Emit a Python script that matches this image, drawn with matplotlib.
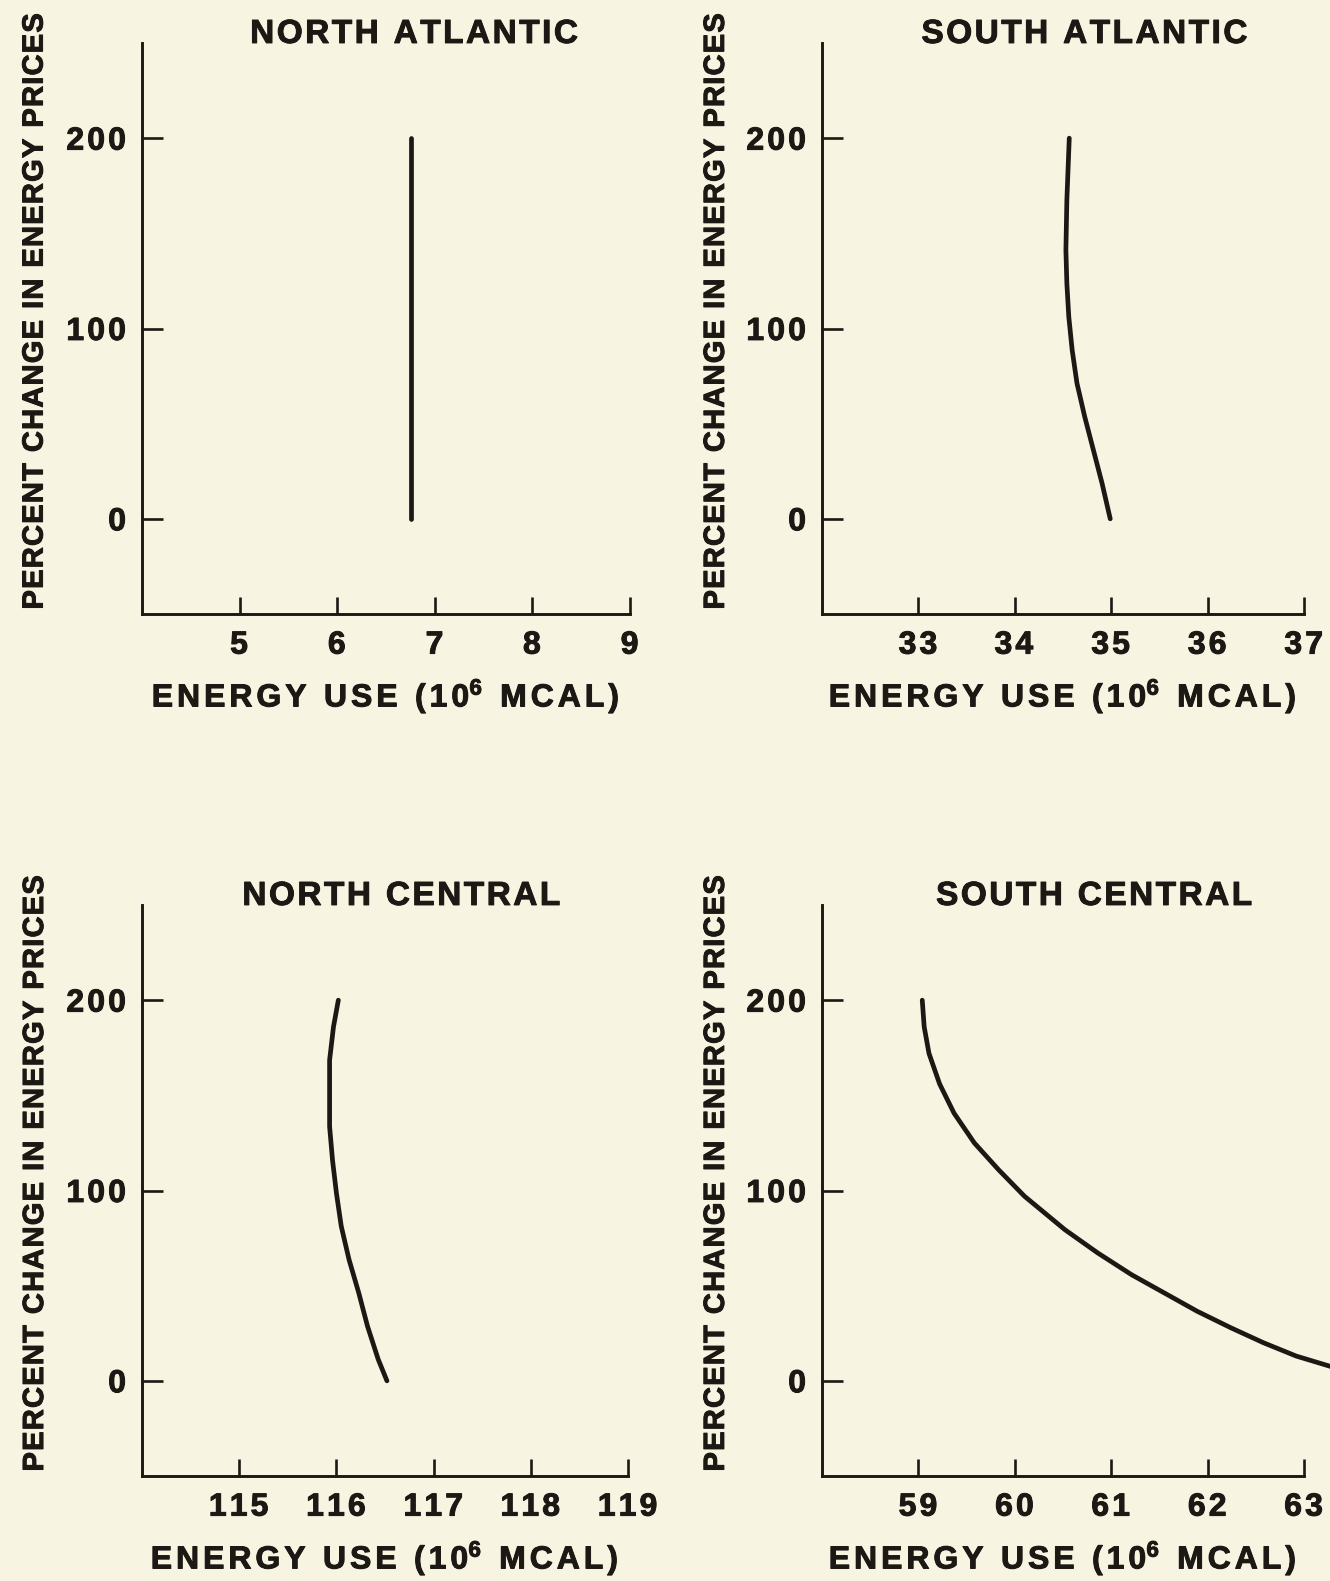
import matplotlib
matplotlib.use('Agg')
import matplotlib.pyplot as plt
import matplotlib.patheffects as pe

plt.rcParams['font.family'] = ['Liberation Sans', 'DejaVu Sans']
plt.rcParams['font.weight'] = 'bold'
plt.rcParams['mathtext.fontset'] = 'custom'
plt.rcParams['mathtext.rm'] = 'Liberation Sans:bold'
plt.rcParams['mathtext.bf'] = 'Liberation Sans:bold'
plt.rcParams['mathtext.it'] = 'Liberation Sans:bold'
plt.rcParams['mathtext.default'] = 'rm'

paper = '#f8f4e2'
ink = '#1c1814'
# scanned lettering is a little heavier than the plain bold face
heavy = [pe.withStroke(linewidth=0.7, foreground=ink)]

regions = ['NORTH ATLANTIC', 'SOUTH ATLANTIC', 'NORTH CENTRAL', 'SOUTH CENTRAL']

# energy use (10^6 Mcal) against percent change in energy prices
na_use = [6.76, 6.76]
na_pct = [0, 200]

sa_use = [34.99, 34.905, 34.815, 34.725, 34.645, 34.595, 34.56, 34.54, 34.53, 34.54, 34.565]
sa_pct = [0, 18.7, 36.2, 53.7, 71.2, 88.7, 106.2, 123.7, 141.2, 167.5, 200]

nc_use = [116.52, 116.43, 116.32, 116.23, 116.13, 116.05, 116.0, 115.96, 115.93,
          115.93, 115.93, 115.97, 116.02]
nc_pct = [0, 11.3, 28.7, 46.2, 63.7, 81.2, 98.7, 116, 133.6, 151, 168.5, 186, 200]

sc_use = [59.04, 59.06, 59.11, 59.22, 59.37, 59.58, 59.83, 60.10, 60.52, 60.86, 61.21,
          61.55, 61.89, 62.24, 62.58, 62.92, 63.26, 63.4]
sc_pct = [200, 186, 172, 156, 140.6, 125, 111, 97, 79.4, 67.2, 55.8,
          46.2, 36.6, 27.9, 20.0, 13.0, 7.8, 5.8]

x_ticks = [[5, 6, 7, 8, 9],
           [33, 34, 35, 36, 37],
           [115, 116, 117, 118, 119],
           [59, 60, 61, 62, 63]]
x_lims = [(4, 9), (32, 37), (114, 119), (58, 63)]
y_ticks = [0, 100, 200]
y_lim = (-50, 250)

curves = [(na_use, na_pct), (sa_use, sa_pct), (nc_use, nc_pct), (sc_use, sc_pct)]

W, H = 1330, 1581
# axes boxes in pixels: left, right, top, bottom
boxes = [(142, 630, 43, 614),
         (822, 1304, 43, 614),
         (142, 628, 905, 1476),
         (822, 1304, 905, 1476)]
titleX = [0.559, 0.546, 0.535, 0.566]


def tracked(tokens, gap):
    # letter-spaced string, the scan uses wide tracking on all lettering
    parts = [r'\ ' if t == ' ' else t for t in tokens]
    return '$' + (r'\hspace{%.3f}' % gap).join(parts) + '$'


xlabel = tracked(list('ENERGY USE (1') + ['0^{6}'] + list(' MCAL)'), 0.14)
ylabel = tracked(list('PERCENT CHANGE IN ENERGY PRICES'), 0.045)

fig = plt.figure(figsize=(W / 100, H / 100), dpi=100, facecolor=paper)

for i in range(4):
    l, r, t, b = boxes[i]
    ax = fig.add_axes([l / W, 1 - b / H, (r - l) / W, (b - t) / H])
    ax.set_facecolor('none')

    ax.plot(curves[i][0], curves[i][1], color=ink, lw=3.4,
            solid_capstyle='round', solid_joinstyle='round', clip_on=False)

    ax.set_xlim(x_lims[i])
    ax.set_ylim(y_lim)
    ax.set_xticks(x_ticks[i])
    ax.set_xticklabels([tracked(list(str(v)), 0.11) for v in x_ticks[i]])
    ax.set_yticks(y_ticks)
    ax.set_yticklabels([tracked(list(str(v)), 0.11) for v in y_ticks])

    for s in ['top', 'right']:
        ax.spines[s].set_visible(False)
    for s in ['left', 'bottom']:
        ax.spines[s].set_linewidth(2.1)
        ax.spines[s].set_color(ink)

    ax.tick_params(axis='both', direction='in', width=1.9, colors=ink, labelsize=23)
    ax.tick_params(axis='x', length=12, pad=12)
    ax.tick_params(axis='y', length=15, pad=11)
    plt.setp(ax.get_xticklabels() + ax.get_yticklabels(), path_effects=heavy)

    ax.text(titleX[i], 1.0, tracked(list(regions[i]), 0.085), transform=ax.transAxes,
            fontsize=24, ha='center', va='baseline', color=ink, path_effects=heavy)
    ax.text(0.5, -0.162, xlabel, transform=ax.transAxes,
            fontsize=23, ha='center', va='baseline', color=ink, path_effects=heavy)
    ax.text(-0.22, 0.53, ylabel, transform=ax.transAxes,
            fontsize=21, rotation=90, ha='center', va='center', color=ink,
            path_effects=heavy)

plt.savefig('out.png', dpi=100, facecolor=paper)
